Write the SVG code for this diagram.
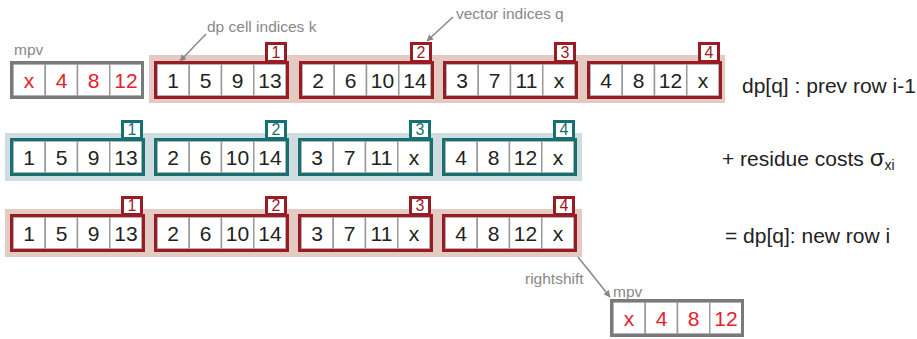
<svg xmlns="http://www.w3.org/2000/svg" width="917" height="339" viewBox="0 0 917 339">
<style>
  text { font-family: "Liberation Sans", Arial, sans-serif; }
  .cell { fill: #fff; stroke: #9a9a9a; stroke-width: 1.5; }
  .val { font-size: 21px; fill: #222; text-anchor: middle; }
  .rval { font-size: 21px; fill: #e8202a; text-anchor: middle; }
  .redb { fill: none; stroke: #9b1b24; stroke-width: 3; }
  .tealb { fill: none; stroke: #147170; stroke-width: 3; }
  .grayb { fill: none; stroke: #7a7a7a; stroke-width: 3; }
  .redlab { fill: #fff; stroke: #9b1b24; stroke-width: 3; }
  .teallab { fill: #fff; stroke: #147170; stroke-width: 3; }
  .redidx { font-size: 16px; fill: #9b1b24; text-anchor: middle; }
  .tealidx { font-size: 16px; fill: #147170; text-anchor: middle; }
  .note { font-size: 15.5px; fill: #888; }
  .desc { font-size: 21px; fill: #222; }
  .conn { stroke: #888; stroke-width: 1.5; fill: none; marker-end: url(#ah); }
</style>
<defs>
  <marker id="ah" viewBox="0 0 10 10" refX="9" refY="5" markerWidth="7" markerHeight="7" markerUnits="userSpaceOnUse" orient="auto">
    <path d="M0,0 L10,5 L0,10 z" fill="#888"/>
  </marker>
  <g id="cells">
    <rect class="cell" x="3" y="3" width="32.25" height="32"/>
    <rect class="cell" x="35.25" y="3" width="32.25" height="32"/>
    <rect class="cell" x="67.5" y="3" width="32.25" height="32"/>
    <rect class="cell" x="99.75" y="3" width="32.25" height="32"/>
  </g>
</defs>

<!-- backgrounds -->
<rect x="149" y="55" width="576" height="48" fill="#e3cbc4"/>
<rect x="5" y="133" width="577" height="48" fill="#cfdde0"/>
<rect x="5" y="209" width="577" height="48" fill="#e3cbc4"/>

<!-- row 1 -->
<g id="mpv-top" transform="translate(10,61)">
  <use href="#cells"/>
  <rect class="grayb" x="1.5" y="1.5" width="131" height="35"/>
  <text class="rval" x="19" y="26.5">x</text>
  <text class="rval" x="51.5" y="26.5">4</text>
  <text class="rval" x="83.5" y="26.5">8</text>
  <text class="rval" x="116" y="26.5">12</text>
</g>
<text class="note" x="14" y="55">mpv</text>

<g id="r1g1" transform="translate(154,61)">
  <use href="#cells"/>
  <rect class="redb" x="1.5" y="1.5" width="132" height="35"/>
  <rect class="redlab" x="112.5" y="-17.5" width="19" height="18"/>
  <text class="redidx" x="122" y="-3">1</text>
  <text class="val" x="19" y="26.5">1</text>
  <text class="val" x="51.5" y="26.5">5</text>
  <text class="val" x="83.5" y="26.5">9</text>
  <text class="val" x="116" y="26.5">13</text>
</g>
<g id="r1g2" transform="translate(299,61)">
  <use href="#cells"/>
  <rect class="redb" x="1.5" y="1.5" width="132" height="35"/>
  <rect class="redlab" x="112.5" y="-17.5" width="19" height="18"/>
  <text class="redidx" x="122" y="-3">2</text>
  <text class="val" x="19" y="26.5">2</text>
  <text class="val" x="51.5" y="26.5">6</text>
  <text class="val" x="83.5" y="26.5">10</text>
  <text class="val" x="116" y="26.5">14</text>
</g>
<g id="r1g3" transform="translate(443,61)">
  <use href="#cells"/>
  <rect class="redb" x="1.5" y="1.5" width="132" height="35"/>
  <rect class="redlab" x="112.5" y="-17.5" width="19" height="18"/>
  <text class="redidx" x="122" y="-3">3</text>
  <text class="val" x="19" y="26.5">3</text>
  <text class="val" x="51.5" y="26.5">7</text>
  <text class="val" x="83.5" y="26.5">11</text>
  <text class="val" x="116" y="26.5">x</text>
</g>
<g id="r1g4" transform="translate(587,61)">
  <use href="#cells"/>
  <rect class="redb" x="1.5" y="1.5" width="132" height="35"/>
  <rect class="redlab" x="112.5" y="-17.5" width="19" height="18"/>
  <text class="redidx" x="122" y="-3">4</text>
  <text class="val" x="19" y="26.5">4</text>
  <text class="val" x="51.5" y="26.5">8</text>
  <text class="val" x="83.5" y="26.5">12</text>
  <text class="val" x="116" y="26.5">x</text>
</g>
<text class="desc" x="742" y="93">dp[q] : prev row i-1</text>

<!-- row 2 -->
<g id="r2g1" transform="translate(10,138)">
  <use href="#cells"/>
  <rect class="tealb" x="1.5" y="1.5" width="132" height="35"/>
  <rect class="teallab" x="112.5" y="-16.5" width="19" height="17"/>
  <text class="tealidx" x="122" y="-3">1</text>
  <text class="val" x="19" y="26.5">1</text>
  <text class="val" x="51.5" y="26.5">5</text>
  <text class="val" x="83.5" y="26.5">9</text>
  <text class="val" x="116" y="26.5">13</text>
</g>
<g id="r2g2" transform="translate(154,138)">
  <use href="#cells"/>
  <rect class="tealb" x="1.5" y="1.5" width="132" height="35"/>
  <rect class="teallab" x="112.5" y="-16.5" width="19" height="17"/>
  <text class="tealidx" x="122" y="-3">2</text>
  <text class="val" x="19" y="26.5">2</text>
  <text class="val" x="51.5" y="26.5">6</text>
  <text class="val" x="83.5" y="26.5">10</text>
  <text class="val" x="116" y="26.5">14</text>
</g>
<g id="r2g3" transform="translate(298,138)">
  <use href="#cells"/>
  <rect class="tealb" x="1.5" y="1.5" width="132" height="35"/>
  <rect class="teallab" x="112.5" y="-16.5" width="19" height="17"/>
  <text class="tealidx" x="122" y="-3">3</text>
  <text class="val" x="19" y="26.5">3</text>
  <text class="val" x="51.5" y="26.5">7</text>
  <text class="val" x="83.5" y="26.5">11</text>
  <text class="val" x="116" y="26.5">x</text>
</g>
<g id="r2g4" transform="translate(442,138)">
  <use href="#cells"/>
  <rect class="tealb" x="1.5" y="1.5" width="132" height="35"/>
  <rect class="teallab" x="112.5" y="-16.5" width="19" height="17"/>
  <text class="tealidx" x="122" y="-3">4</text>
  <text class="val" x="19" y="26.5">4</text>
  <text class="val" x="51.5" y="26.5">8</text>
  <text class="val" x="83.5" y="26.5">12</text>
  <text class="val" x="116" y="26.5">x</text>
</g>
<text class="desc" x="722" y="166">+ residue costs <tspan font-size="24">σ</tspan><tspan font-size="14" dy="4">xi</tspan></text>

<!-- row 3 -->
<g id="r3g1" transform="translate(10,214)">
  <use href="#cells"/>
  <rect class="redb" x="1.5" y="1.5" width="132" height="35"/>
  <rect class="redlab" x="112.5" y="-16.5" width="19" height="17"/>
  <text class="redidx" x="122" y="-3">1</text>
  <text class="val" x="19" y="26.5">1</text>
  <text class="val" x="51.5" y="26.5">5</text>
  <text class="val" x="83.5" y="26.5">9</text>
  <text class="val" x="116" y="26.5">13</text>
</g>
<g id="r3g2" transform="translate(154,214)">
  <use href="#cells"/>
  <rect class="redb" x="1.5" y="1.5" width="132" height="35"/>
  <rect class="redlab" x="112.5" y="-16.5" width="19" height="17"/>
  <text class="redidx" x="122" y="-3">2</text>
  <text class="val" x="19" y="26.5">2</text>
  <text class="val" x="51.5" y="26.5">6</text>
  <text class="val" x="83.5" y="26.5">10</text>
  <text class="val" x="116" y="26.5">14</text>
</g>
<g id="r3g3" transform="translate(298,214)">
  <use href="#cells"/>
  <rect class="redb" x="1.5" y="1.5" width="132" height="35"/>
  <rect class="redlab" x="112.5" y="-16.5" width="19" height="17"/>
  <text class="redidx" x="122" y="-3">3</text>
  <text class="val" x="19" y="26.5">3</text>
  <text class="val" x="51.5" y="26.5">7</text>
  <text class="val" x="83.5" y="26.5">11</text>
  <text class="val" x="116" y="26.5">x</text>
</g>
<g id="r3g4" transform="translate(442,214)">
  <use href="#cells"/>
  <rect class="redb" x="1.5" y="1.5" width="132" height="35"/>
  <rect class="redlab" x="112.5" y="-16.5" width="19" height="17"/>
  <text class="redidx" x="122" y="-3">4</text>
  <text class="val" x="19" y="26.5">4</text>
  <text class="val" x="51.5" y="26.5">8</text>
  <text class="val" x="83.5" y="26.5">12</text>
  <text class="val" x="116" y="26.5">x</text>
</g>
<text class="desc" x="725" y="243">= dp[q]: new row i</text>

<!-- bottom mpv -->
<g id="mpv-bottom" transform="translate(610,299)">
  <use href="#cells"/>
  <rect class="grayb" x="1.5" y="1.5" width="131" height="35"/>
  <text class="rval" x="19" y="26.5">x</text>
  <text class="rval" x="51.5" y="26.5">4</text>
  <text class="rval" x="83.5" y="26.5">8</text>
  <text class="rval" x="116" y="26.5">12</text>
</g>
<text class="note" x="613" y="297">mpv</text>

<!-- notes -->
<text class="note" x="207" y="32">dp cell indices k</text>
<text class="note" x="456" y="19">vector indices q</text>
<text class="note" x="525" y="284">rightshift</text>

<!-- connectors -->
<g id="connectors">
  <path class="conn" d="M206,34 L180,61"/>
  <path class="conn" d="M453,17 L427,41"/>
  <path class="conn" d="M578,257 L610,297"/>
</g>
</svg>
